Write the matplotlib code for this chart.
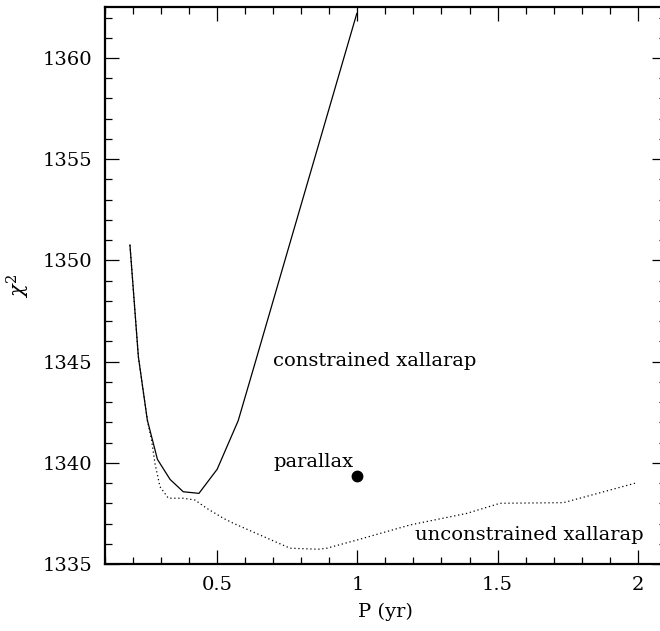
import matplotlib
matplotlib.use("Agg")
import matplotlib.pyplot as plt
from matplotlib.ticker import MultipleLocator

plt.rcParams['font.family'] = ['DejaVu Serif']
plt.rcParams['mathtext.fontset'] = 'dejavuserif'

# constrained xallarap (solid)
con_P = [0.189, 0.219, 0.251, 0.287, 0.332, 0.379, 0.435, 0.50, 0.575, 0.635, 0.75, 0.998]
con_chi2 = [1350.76, 1345.24, 1342.11, 1340.17, 1339.18, 1338.57, 1338.49, 1339.68, 1342.08, 1344.92, 1350.4, 1362.2]

# unconstrained xallarap (dotted)
unc_P = [0.189, 0.219, 0.251, 0.266, 0.278, 0.296, 0.326, 0.379, 0.421, 0.463, 0.522, 0.558, 0.76, 0.861,
         0.891, 1.0, 1.188, 1.39, 1.509, 1.735, 1.99]
unc_chi2 = [1350.76, 1345.24, 1342.11, 1341.13, 1339.98, 1338.82, 1338.25, 1338.25, 1338.16, 1337.75,
            1337.26, 1337.01, 1335.78, 1335.73, 1335.78, 1336.19, 1336.93, 1337.5, 1338.0, 1338.03, 1338.99]

# parallax point
par_P = [1.0]
par_chi2 = [1339.36]

fig = plt.figure(figsize=(6.6, 6.31), dpi=100)
ax = fig.add_axes([105/660, 67/631, 560.8/660, 556.6/631])

ax.plot(con_P, con_chi2, color='black', lw=0.9)
ax.plot(unc_P, unc_chi2, color='black', lw=0.9, linestyle=(0, (1, 2.2)))
ax.plot(par_P, par_chi2, 'o', color='black', ms=7.5)

ax.set_xlim(0.1, 2.1)
ax.set_ylim(1335, 1362.5)

ax.xaxis.set_major_locator(MultipleLocator(0.5))
ax.xaxis.set_minor_locator(MultipleLocator(0.1))
ax.yaxis.set_major_locator(MultipleLocator(5))
ax.yaxis.set_minor_locator(MultipleLocator(1))
ax.set_xticks([0.5, 1.0, 1.5, 2.0])
ax.set_xticklabels(['0.5', '1', '1.5', '2'])

ax.tick_params(which='both', direction='in', top=True, right=True, width=0.9, labelsize=14)
ax.tick_params(which='major', length=10, pad=9)
ax.tick_params(which='minor', length=4.8)
for s in ax.spines.values():
    s.set_linewidth(1.6)

ax.set_xlabel('P (yr)', fontsize=14, labelpad=6)
ax.set_ylabel(r'$\chi^2$', fontsize=15, labelpad=8)

ax.text(0.70, 1344.78, 'constrained xallarap', fontsize=14, ha='left', va='baseline')
ax.text(0.70, 1339.78, 'parallax', fontsize=14, ha='left', va='baseline')
ax.text(1.206, 1336.19, 'unconstrained xallarap', fontsize=14, ha='left', va='baseline')

fig.savefig('out.png', dpi=100)
